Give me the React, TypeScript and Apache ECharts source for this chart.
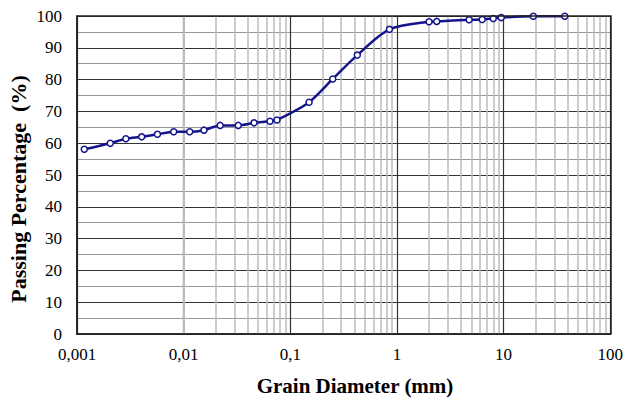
import React, { useEffect, useRef } from "react";
import * as echarts from "echarts";

const diameters = [0.00117, 0.00205, 0.00287, 0.00404, 0.00568, 0.00807, 0.0114, 0.0155, 0.022, 0.0325, 0.0457, 0.0645, 0.075, 0.15, 0.25, 0.425, 0.85, 2.0, 2.36, 4.75, 6.3, 8.0, 9.5, 19.0, 37.5];
const passing = [58.1, 60.0, 61.4, 62.0, 62.8, 63.6, 63.6, 64.1, 65.6, 65.6, 66.4, 66.9, 67.3, 72.9, 80.2, 87.7, 95.8, 98.2, 98.3, 98.8, 98.9, 99.2, 99.5, 99.9, 99.9];
const xTickLabels: Record<string, string> = { "0.001": "0,001", "0.01": "0,01", "0.1": "0,1", "1": "1", "10": "10", "100": "100" };
const decades = [0.001, 0.01, 0.1, 1, 10];
const minorMultipliers = [2, 3, 4, 5, 6, 7, 8, 9];

export default function App() {
  const ref = useRef<HTMLDivElement>(null);
  useEffect(() => {
    document.body.style.margin = "0";
    const chart = echarts.init(ref.current!, null, { renderer: "svg" });
    const minorLines: any[] = [];
    decades.forEach((d) => minorMultipliers.forEach((m) => minorLines.push({ xAxis: +(d * m).toPrecision(3) })));
    chart.setOption({
      animation: false,
      backgroundColor: "#fff",
      grid: { left: 77, right: 15, top: 16, bottom: 67 },
      xAxis: {
        type: "log",
        logBase: 10,
        min: 0.001,
        max: 100,
        axisLine: { show: true, onZero: false, lineStyle: { color: "#222", width: 1.5 } },
        axisTick: { show: false },
        axisLabel: {
          margin: 12,
          fontFamily: "Liberation Serif",
          fontSize: 17,
          color: "#000",
          formatter: (v: number) => {
            const k = String(+v.toPrecision(3));
            return xTickLabels[k] ?? k;
          },
        },
        splitLine: { show: true, lineStyle: { color: "#333", width: 1.2 } },
      },
      yAxis: {
        type: "value",
        min: 0,
        max: 100,
        interval: 10,
        axisLine: { show: true, lineStyle: { color: "#222", width: 1.5 } },
        axisTick: { show: false },
        axisLabel: { margin: 15, fontFamily: "Liberation Serif", fontSize: 17, color: "#000" },
        splitLine: { show: true, lineStyle: { color: "#333", width: 1.2 } },
        minorTick: { show: false, splitNumber: 2 },
        minorSplitLine: { show: true, lineStyle: { color: "#999", width: 1.2 } },
      },
      graphic: [
        {
          type: "rect",
          shape: { x: 77, y: 16, width: 534, height: 318 },
          style: { fill: "none", stroke: "#222", lineWidth: 1.5 },
          z: 10,
          silent: true,
        },
        {
          type: "text",
          x: 355,
          y: 386,
          style: {
            text: "Grain Diameter (mm)",
            font: "bold 21px 'Liberation Serif'",
            fill: "#000",
            align: "center",
            verticalAlign: "middle",
          },
        },
        {
          type: "text",
          x: 18,
          y: 189,
          rotation: Math.PI / 2,
          style: {
            text: "Passing Percentage  (%)",
            font: "bold 22px 'Liberation Serif'",
            fill: "#000",
            align: "center",
            verticalAlign: "middle",
          },
        },
      ],
      series: [
        {
          type: "line",
          data: diameters.map((d, i) => [d, passing[i]]),
          smooth: 0.3,
          symbol: "circle",
          symbolSize: 6,
          lineStyle: { color: "#14148c", width: 2.5 },
          itemStyle: { color: "#fff", borderColor: "#14148c", borderWidth: 1.5 },
          z: 5,
          markLine: {
            silent: true,
            symbol: "none",
            label: { show: false },
            lineStyle: { color: "#bbb", type: "solid", width: 1.5 },
            data: minorLines,
            z: 1,
          },
        },
      ],
    });
    return () => chart.dispose();
  }, []);
  return <div ref={ref} style={{ width: 626, height: 401 }} />;
}
